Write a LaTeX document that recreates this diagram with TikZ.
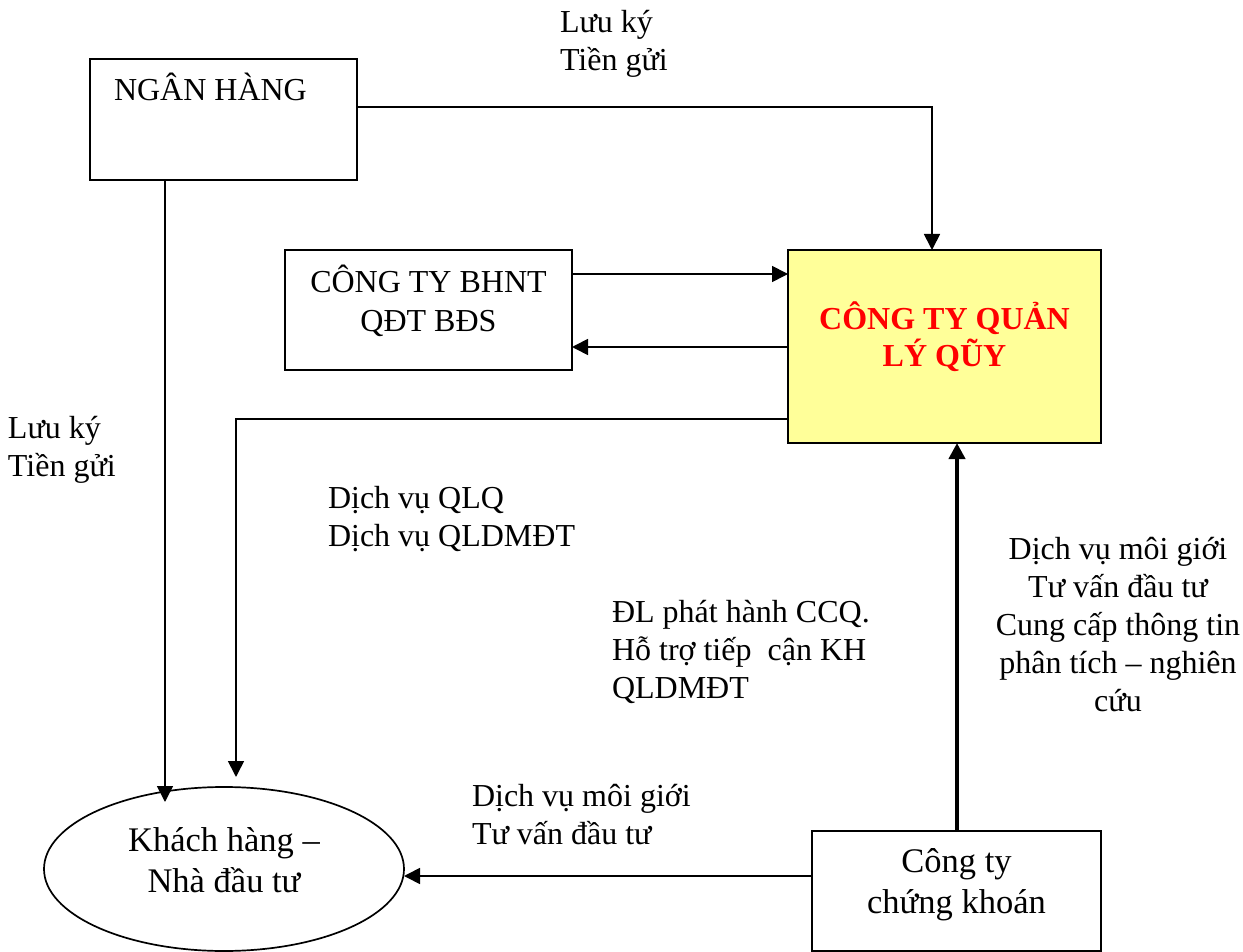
\documentclass[tikz,border=0pt]{standalone}
\usepackage{fontspec}
\setmainfont{Liberation Serif}
\usetikzlibrary{arrows.meta,shapes.geometric}
\definecolor{boxyellow}{HTML}{FFFF99}
\definecolor{titlered}{HTML}{FF0000}
\begin{document}
\begin{tikzpicture}[x=0.5pt,y=-0.5pt,
  txt/.style={font=\fontsize{16}{19}\selectfont, inner sep=0pt, outer sep=0pt},
  bigtxt/.style={font=\fontsize{17.25}{20.25}\selectfont, inner sep=0pt, outer sep=0pt},
  box/.style={draw, line width=0.85pt, inner sep=0pt, outer sep=0pt},
  arr/.style={line width=0.85pt, -{Triangle[length=8pt,width=8pt]}},
  thickarr/.style={line width=2.4pt, -{Triangle[length=8pt,width=8pt]}}
]
\useasboundingbox (0,0) rectangle (1243,952);
\fill[white] (0,0) rectangle (1243,952);

% boxes
\node[box, minimum width=133.5pt, minimum height=60.5pt] (nh) at (223.5,119.5) {};
\node[box, minimum width=143.5pt, minimum height=60pt] (bh) at (428.5,310) {};
\node[box, fill=boxyellow, minimum width=156.5pt, minimum height=96.5pt] (qlq) at (944.5,346.5) {};
\node[box, minimum width=144.5pt, minimum height=60pt] (ck) at (956.5,891) {};
\node[box, ellipse, minimum width=180pt, minimum height=82pt] (kh) at (224,869) {};

% box texts (base anchor = baseline of the last line)
\node[txt, anchor=base west] (nhtext) at (114,101) {NGÂN HÀNG};
\node[txt, anchor=base, align=center, font=\fontsize{16}{20}\selectfont] (bhtext) at (428.5,332) {CÔNG TY BHNT\\QĐT BĐS};
\node[txt, anchor=base, align=center, text=titlered, font=\fontsize{16}{18.5}\selectfont\bfseries] (qlqtext) at (944.5,366) {CÔNG TY QUẢN\\LÝ QŨY};
\node[bigtxt, anchor=base, align=center] (cktext) at (956.5,913) {Công ty\\chứng khoán};
\node[bigtxt, anchor=base, align=center] (khtext) at (224,892) {Khách hàng –\\Nhà đầu tư};

% labels
\node[txt, anchor=base west, align=left] (l1) at (560,71) {Lưu ký\\Tiền gửi};
\node[txt, anchor=base west, align=left] (l2) at (8,476) {Lưu ký\\Tiền gửi};
\node[txt, anchor=base west, align=left] (l3) at (328,546) {Dịch vụ QLQ\\Dịch vụ QLDMĐT};
\node[txt, anchor=base west, align=left] (l4) at (612,698) {ĐL phát hành CCQ.\\Hỗ trợ tiếp\ \ cận KH\\QLDMĐT};
\node[txt, anchor=base, align=center] (l5) at (1118,711) {Dịch vụ môi giới\\Tư vấn đầu tư\\Cung cấp thông tin\\phân tích – nghiên\\cứu};
\node[txt, anchor=base west, align=left] (l6) at (472,844) {Dịch vụ môi giới\\Tư vấn đầu tư};

% helper coordinates
\coordinate (c1) at (932,107);
\coordinate (y274) at (0,274);
\coordinate (y347) at (0,347);
\coordinate (c2) at (236,419);
\coordinate (e2) at (236,777);
\coordinate (e1) at (165,802);
\coordinate (y876) at (0,876);
\coordinate (c3) at (957,0);

% connectors
\draw[arr] (nh.east |- c1) -- (c1) -- (c1 |- qlq.north);
\draw[arr] (bh.east |- y274) -- (qlq.west |- y274);
\draw[arr] (qlq.west |- y347) -- (bh.east |- y347);
\draw[arr] (qlq.west |- c2) -- (c2) -- (e2);
\draw[arr] (nh.south -| e1) -- (e1);
\draw[arr] (ck.west |- y876) -- (kh.east |- y876);
\draw[thickarr] (ck.north -| c3) -- (qlq.south -| c3);
\end{tikzpicture}
\end{document}
